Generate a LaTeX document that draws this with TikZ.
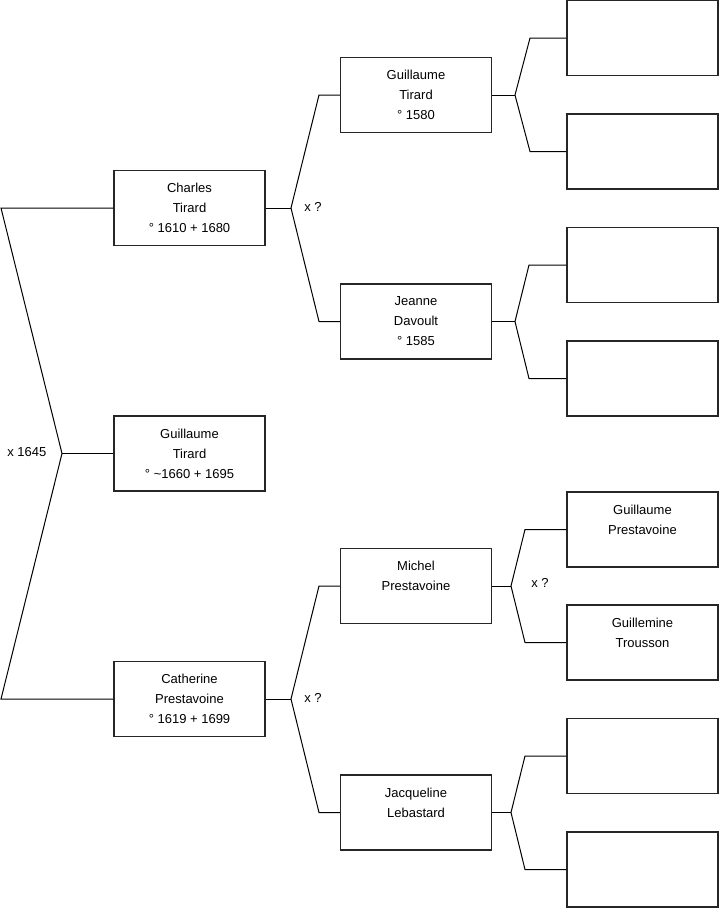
\documentclass[tikz,border=0pt]{standalone}
\usepackage{fontspec}
\setmainfont{Liberation Sans}
\begin{document}
\begin{tikzpicture}[x=0.75pt,y=-0.75pt,
  person/.style={draw=black!85,line width=0.8pt,rectangle,minimum width=151*0.75pt,minimum height=75*0.75pt,inner sep=0pt,align=center,font=\fontsize{9.75}{15}\selectfont},
  link/.style={draw=black,line width=0.75pt},
  marr/.style={font=\fontsize{9.75}{12}\selectfont,anchor=west,inner sep=0pt}]
\useasboundingbox (0,0) rectangle (719,908);
% generation 1
\node[person] (charles) at (189.5,208) {Charles\\Tirard\\° 1610 + 1680};
\node[person] (guillaume) at (189.5,453.5) {Guillaume\\Tirard\\° \textasciitilde1660 + 1695};
\node[person] (catherine) at (189.5,699) {Catherine\\Prestavoine\\° 1619 + 1699};
% generation 2
\node[person] (guil1580) at (416,95) {Guillaume\\Tirard\\° 1580};
\node[person] (jeanne) at (416,321.5) {Jeanne\\Davoult\\° 1585};
\node[person] (michel) at (416,586) {Michel\\Prestavoine\\\mbox{}};
\node[person] (jacq) at (416,812.5) {Jacqueline\\Lebastard\\\mbox{}};
% generation 3
\node[person] (g1) at (642.5,38) {};
\node[person] (g2) at (642.5,151.5) {};
\node[person] (g3) at (642.5,265) {};
\node[person] (g4) at (642.5,378.5) {};
\node[person] (g5) at (642.5,529.5) {Guillaume\\Prestavoine\\\mbox{}};
\node[person] (g6) at (642.5,642.5) {Guillemine\\Trousson\\\mbox{}};
\node[person] (g7) at (642.5,756) {};
\node[person] (g8) at (642.5,869.5) {};
% coordinates
\coordinate (a1) at (1,208);
\coordinate (a0) at (62,453.5);
\coordinate (a2) at (1,699);
\coordinate (b0) at (291,208);
\coordinate (b1) at (319,95);
\coordinate (b2) at (319,321.5);
\coordinate (c0) at (291,699);
\coordinate (c1) at (319,586);
\coordinate (c2) at (319,812.5);
\coordinate (d0) at (515,95);
\coordinate (d1) at (530,38);
\coordinate (d2) at (530,151.5);
\coordinate (e0) at (515,321.5);
\coordinate (e1) at (529,265);
\coordinate (e2) at (529,378.5);
\coordinate (f0) at (511,586);
\coordinate (f1) at (525,529.5);
\coordinate (f2) at (525,642.5);
\coordinate (h0) at (511,812.5);
\coordinate (h1) at (525,756);
\coordinate (h2) at (525,869.5);
% connectors
\draw[link] (charles.west) -- (a1) -- (a0) -- (a2) -- (catherine.west);
\draw[link] (a0) -- (guillaume.west);
\draw[link] (charles.east) -- (b0);
\draw[link] (guil1580.west) -- (b1) -- (b0) -- (b2) -- (jeanne.west);
\draw[link] (catherine.east) -- (c0);
\draw[link] (michel.west) -- (c1) -- (c0) -- (c2) -- (jacq.west);
\draw[link] (guil1580.east) -- (d0);
\draw[link] (g1.west) -- (d1) -- (d0) -- (d2) -- (g2.west);
\draw[link] (jeanne.east) -- (e0);
\draw[link] (g3.west) -- (e1) -- (e0) -- (e2) -- (g4.west);
\draw[link] (michel.east) -- (f0);
\draw[link] (g5.west) -- (f1) -- (f0) -- (f2) -- (g6.west);
\draw[link] (jacq.east) -- (h0);
\draw[link] (g7.west) -- (h1) -- (h0) -- (h2) -- (g8.west);
% marriage labels
\node[marr] (m1) at (7,452) {x 1645};
\node[marr] (m2) at (304,207) {x ?};
\node[marr] (m3) at (304,697.5) {x ?};
\node[marr] (m4) at (531,583) {x ?};
\end{tikzpicture}
\end{document}
